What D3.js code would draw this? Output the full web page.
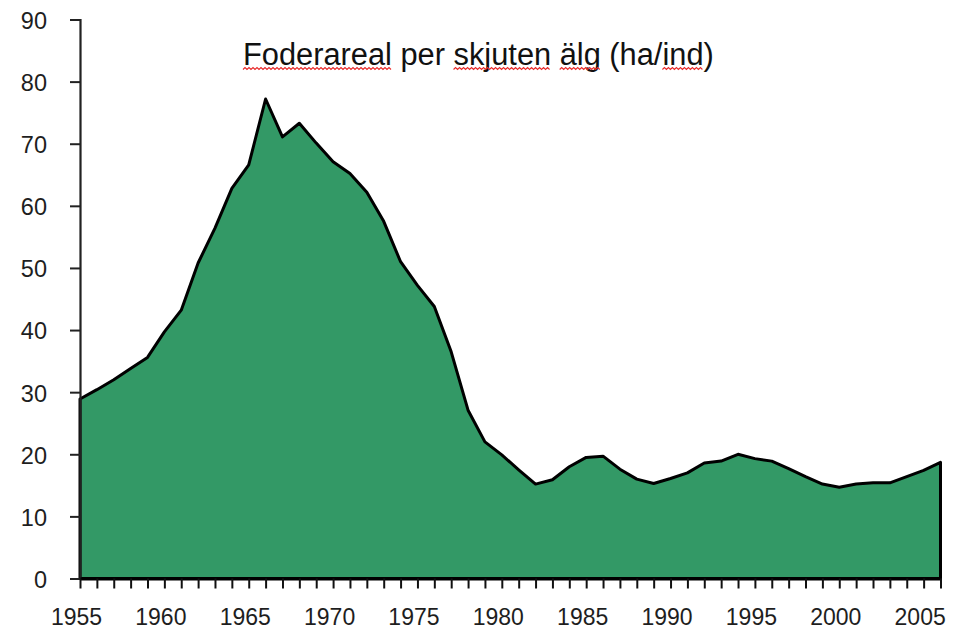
<!DOCTYPE html>
<html>
<head>
<meta charset="utf-8">
<script src="https://cdn.jsdelivr.net/npm/d3@7"></script>
<style>
  html, body { margin: 0; padding: 0; background: #fff; }
  svg { display: block; }
  text { font-family: "Liberation Sans", Arial, sans-serif; }
</style>
</head>
<body>
<svg id="chart" width="959" height="629"></svg>
<script>
// ---- Data ----
const years = [1955,1956,1957,1958,1959,1960,1961,1962,1963,1964,1965,1966,1967,1968,1969,1970,
  1971,1972,1973,1974,1975,1976,1977,1978,1979,1980,1981,1982,1983,1984,1985,1986,1987,1988,1989,
  1990,1991,1992,1993,1994,1995,1996,1997,1998,1999,2000,2001,2002,2003,2004,2005,2006];
const values = [28.9,30.4,32.0,33.8,35.6,39.7,43.2,50.8,56.4,62.8,66.6,77.2,71.1,73.3,70.1,67.1,
  65.2,62.2,57.5,51.0,47.2,43.8,36.5,27.1,22.0,19.9,17.5,15.2,15.9,18.0,19.5,19.7,17.6,16.0,15.3,
  16.1,17.0,18.6,18.9,20.0,19.3,18.9,17.7,16.4,15.2,14.7,15.2,15.4,15.4,16.4,17.4,18.7];
const yTicks = [0,10,20,30,40,50,60,70,80,90];
const xLabelYears = [1955,1960,1965,1970,1975,1980,1985,1990,1995,2000,2005];
const title = "Foderareal per skjuten älg (ha/ind)";
const flaggedWords = ["Foderareal", "skjuten", "älg", "ind"];

// ---- Layout ----
const svg = d3.select("#chart");
const x = d3.scaleLinear().domain([1955, 2006]).range([80, 940.5]);
const y = d3.scaleLinear().domain([0, 90]).range([578.5, 19.5]);
const data = years.map((yr, i) => ({ yr, v: values[i] }));

// Area
const area = d3.area().x(d => x(d.yr)).y0(y(0)).y1(d => y(d.v));
svg.append("path")
  .datum(data)
  .attr("d", area)
  .attr("fill", "#339966")
  .attr("stroke", "#000")
  .attr("stroke-width", 3)
  .attr("stroke-linejoin", "round");

// Y axis
const yAxis = svg.append("g")
  .attr("transform", `translate(${x(1955)},0)`)
  .call(d3.axisLeft(y).tickValues(yTicks).tickSize(10).tickPadding(23).tickFormat(d3.format("d")));
yAxis.select(".domain").attr("stroke", "#222").attr("stroke-width", 2.2);
yAxis.selectAll(".tick line").attr("stroke", "#222").attr("stroke-width", 2);
yAxis.selectAll(".tick text")
  .attr("font-size", 23.5)
  .attr("font-family", "'Liberation Sans', Arial, sans-serif")
  .attr("fill", "#1e1e1e")
  .attr("dy", "0.38em");

// X axis
const xAxis = svg.append("g")
  .attr("transform", `translate(0,${y(0)})`)
  .call(d3.axisBottom(x).tickValues(years).tickSize(10).tickSizeOuter(0)
    .tickFormat(d => xLabelYears.includes(d) ? String(d) : ""));
xAxis.select(".domain").attr("stroke", "#000").attr("stroke-width", 3.2);
xAxis.selectAll(".tick line").attr("stroke", "#111").attr("stroke-width", 2);
xAxis.selectAll(".tick text")
  .attr("font-size", 23)
  .attr("font-family", "'Liberation Sans', Arial, sans-serif")
  .attr("fill", "#1e1e1e")
  .attr("dy", null)
  .attr("y", 46)
  .attr("x", -4);

// Title
const t = svg.append("text")
  .attr("x", 243)
  .attr("y", 65)
  .attr("font-size", 30.8)
  .attr("fill", "#111")
  .text(title);

// Spell-check style squiggles under flagged words
const tn = t.node();
flaggedWords.forEach(w => {
  const idx = title.indexOf(w);
  if (idx < 0) return;
  const x0 = tn.getStartPositionOfChar(idx).x;
  const x1 = tn.getEndPositionOfChar(idx + w.length - 1).x;
  const yy = 69.5;
  let dStr = `M${x0},${yy}`;
  let up = true;
  for (let xx = x0 + 2; xx <= x1; xx += 2) {
    dStr += ` L${xx},${yy + (up ? -2 : 0)}`;
    up = !up;
  }
  svg.append("path").attr("d", dStr).attr("fill", "none")
    .attr("stroke", "#e82a2a").attr("stroke-width", 1.1);
});
</script>
</body>
</html>
